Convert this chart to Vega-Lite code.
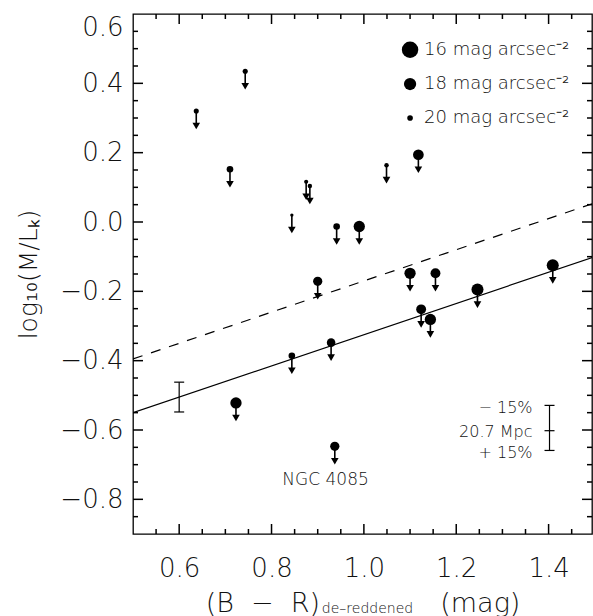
{
  "$schema": "https://vega.github.io/schema/vega-lite/v6.json",
  "width": 459,
  "height": 520,
  "autosize": "none",
  "padding": {"left": 133, "top": 14, "right": 1, "bottom": 82},
  "config": {
    "view": {"stroke": "black", "strokeWidth": 1.3},
    "axis": {"domain": false, "grid": false, "ticks": false, "tickSize": 0,
      "labelFont": "DejaVu Sans", "labelFontWeight": 200, "labelFontSize": 26, "labelColor": "#111",
      "titleFont": "DejaVu Sans", "titleFontWeight": 200, "titleFontSize": 27, "titleColor": "#111"},
    "text": {"font": "DejaVu Sans", "fontWeight": 200, "color": "#111"}
  },
  "datasets": {
    "pts": [
      {"x":0.637,"y":0.32,"mu":20.1},
      {"x":0.743,"y":0.435,"mu":20.1},
      {"x":0.71,"y":0.152,"mu":19.8},
      {"x":0.844,"y":0.02,"mu":20.35},
      {"x":0.875,"y":0.116,"mu":20.25},
      {"x":0.883,"y":0.104,"mu":20.2},
      {"x":0.941,"y":-0.013,"mu":19.8},
      {"x":0.99,"y":-0.013,"mu":18.4},
      {"x":1.049,"y":0.164,"mu":20.2},
      {"x":1.118,"y":0.194,"mu":18.6},
      {"x":0.9,"y":-0.171,"mu":19.1},
      {"x":1.10,"y":-0.148,"mu":18.4},
      {"x":1.155,"y":-0.148,"mu":18.9},
      {"x":1.246,"y":-0.195,"mu":18.1},
      {"x":1.409,"y":-0.125,"mu":18.1},
      {"x":1.124,"y":-0.252,"mu":18.9},
      {"x":1.144,"y":-0.281,"mu":18.4},
      {"x":0.929,"y":-0.348,"mu":19.3},
      {"x":0.844,"y":-0.386,"mu":19.8},
      {"x":0.937,"y":-0.647,"mu":19.1},
      {"x":0.723,"y":-0.522,"mu":18.4}
    ],
    "fit": [{"x":0.5,"y":-0.55},{"x":1.5,"y":-0.1}],
    "dash": [{"x":0.5,"y":-0.395},{"x":1.5,"y":0.055}],
    "eb": [{"x":0.6,"lo":-0.548,"hi":-0.462},{"x":1.402,"lo":-0.659,"hi":-0.529}],
    "ebmid": [{"x":1.402,"y":-0.602}],
    "ebtext": [{"y":-0.537,"t":"− 15%"},{"y":-0.607,"t":"20.7 Mpc\u00a0"},{"y":-0.666,"t":"+ 15%"}],
    "leg": [{"mu":16,"y":0.497,"t":"16 mag arcsec⁻²"},{"mu":18,"y":0.398,"t":"18 mag arcsec⁻²"},{"mu":20,"y":0.30,"t":"20 mag arcsec⁻²"}],
    "ann": [{"x":0.917,"y":-0.745,"t":"NGC 4085"}],
    "xmaj": [{"v":0.6},{"v":0.8},{"v":1.0},{"v":1.2},{"v":1.4}],
    "xmin": [{"v":0.55},{"v":0.65},{"v":0.7},{"v":0.75},{"v":0.85},{"v":0.9},{"v":0.95},{"v":1.05},{"v":1.1},{"v":1.15},{"v":1.25},{"v":1.3},{"v":1.35},{"v":1.45}],
    "ymaj": [{"v":-0.8},{"v":-0.6},{"v":-0.4},{"v":-0.2},{"v":0.0},{"v":0.2},{"v":0.4}],
    "ymin": [{"v":-0.85},{"v":-0.75},{"v":-0.7},{"v":-0.65},{"v":-0.55},{"v":-0.5},{"v":-0.45},{"v":-0.35},{"v":-0.3},{"v":-0.25},{"v":-0.15},{"v":-0.1},{"v":-0.05},{"v":0.05},{"v":0.1},{"v":0.15},{"v":0.25},{"v":0.3},{"v":0.35},{"v":0.45},{"v":0.5},{"v":0.55}]
  },
  "layer": [
    {
      "data": {"name": "fit"},
      "mark": {"type": "line", "color": "black", "strokeWidth": 1.2, "clip": true},
      "encoding": {
        "x": {"field": "x", "type": "quantitative", "scale": {"domain": [0.5, 1.494], "nice": false, "zero": false},
          "axis": {"orient": "bottom", "values": [0.6,0.8,1.0,1.2,1.4], "labelPadding": 21, "format": ".1f",
            "title": "(B\u00a0\u00a0−\u00a0\u00a0R)\u00a0\u00a0\u00a0\u00a0\u00a0\u00a0\u00a0\u00a0\u00a0\u00a0\u00a0\u00a0\u00a0\u00a0(mag)", "titleBaseline": "alphabetic", "titleY": 77}},
        "y": {"field": "y", "type": "quantitative", "scale": {"domain": [-0.9, 0.6], "nice": false, "zero": false},
          "axis": {"orient": "left", "values": [-0.8,-0.6,-0.4,-0.2,0,0.2,0.4,0.6], "labelPadding": 10, "format": ".1f",
            "labelFlush": true, "title": "log₁₀(M/Lₖ)", "titleAngle": -90, "titleX": -97, "titleY": 260, "titleBaseline": "alphabetic", "titleAlign": "center", "titleFontSize": 25}}
      }
    },
    {
      "data": {"name": "dash"},
      "mark": {"type": "line", "color": "black", "strokeWidth": 1.2, "strokeDash": [10, 9], "clip": true},
      "encoding": {
        "x": {"field": "x", "type": "quantitative"},
        "y": {"field": "y", "type": "quantitative"}
      }
    },
    {
      "data": {"name": "xmaj"},
      "mark": {"type": "tick", "orient": "vertical", "color": "black", "opacity": 1, "thickness": 1.5, "size": 10, "yOffset": -5},
      "encoding": {"x": {"field": "v", "type": "quantitative"}, "y": {"datum": -0.9, "type": "quantitative"}}
    },
    {
      "data": {"name": "xmaj"},
      "mark": {"type": "tick", "orient": "vertical", "color": "black", "opacity": 1, "thickness": 1.5, "size": 10, "yOffset": 5},
      "encoding": {"x": {"field": "v", "type": "quantitative"}, "y": {"datum": 0.6, "type": "quantitative"}}
    },
    {
      "data": {"name": "xmin"},
      "mark": {"type": "tick", "orient": "vertical", "color": "black", "opacity": 1, "thickness": 1.5, "size": 5, "yOffset": -2.5},
      "encoding": {"x": {"field": "v", "type": "quantitative"}, "y": {"datum": -0.9, "type": "quantitative"}}
    },
    {
      "data": {"name": "xmin"},
      "mark": {"type": "tick", "orient": "vertical", "color": "black", "opacity": 1, "thickness": 1.5, "size": 5, "yOffset": 2.5},
      "encoding": {"x": {"field": "v", "type": "quantitative"}, "y": {"datum": 0.6, "type": "quantitative"}}
    },
    {
      "data": {"name": "ymaj"},
      "mark": {"type": "tick", "orient": "horizontal", "color": "black", "opacity": 1, "thickness": 1.5, "size": 10, "xOffset": 5},
      "encoding": {"y": {"field": "v", "type": "quantitative"}, "x": {"datum": 0.5, "type": "quantitative"}}
    },
    {
      "data": {"name": "ymaj"},
      "mark": {"type": "tick", "orient": "horizontal", "color": "black", "opacity": 1, "thickness": 1.5, "size": 10, "xOffset": -5},
      "encoding": {"y": {"field": "v", "type": "quantitative"}, "x": {"datum": 1.494, "type": "quantitative"}}
    },
    {
      "data": {"name": "ymin"},
      "mark": {"type": "tick", "orient": "horizontal", "color": "black", "opacity": 1, "thickness": 1.5, "size": 5, "xOffset": 2.5},
      "encoding": {"y": {"field": "v", "type": "quantitative"}, "x": {"datum": 0.5, "type": "quantitative"}}
    },
    {
      "data": {"name": "ymin"},
      "mark": {"type": "tick", "orient": "horizontal", "color": "black", "opacity": 1, "thickness": 1.5, "size": 5, "xOffset": -2.5},
      "encoding": {"y": {"field": "v", "type": "quantitative"}, "x": {"datum": 1.494, "type": "quantitative"}}
    },
    {
      "data": {"name": "pts"},
      "mark": {"type": "rule", "color": "black", "strokeWidth": 1.6, "y2Offset": 16},
      "encoding": {
        "x": {"field": "x", "type": "quantitative"},
        "y": {"field": "y", "type": "quantitative"},
        "y2": {"field": "y"}
      }
    },
    {
      "data": {"name": "pts"},
      "mark": {"type": "point", "shape": "triangle-down", "filled": true, "color": "black", "opacity": 1, "size": 58, "yOffset": 15},
      "encoding": {
        "x": {"field": "x", "type": "quantitative"},
        "y": {"field": "y", "type": "quantitative"}
      }
    },
    {
      "data": {"name": "pts"},
      "mark": {"type": "circle", "color": "black", "opacity": 1},
      "encoding": {
        "x": {"field": "x", "type": "quantitative"},
        "y": {"field": "y", "type": "quantitative"},
        "size": {"field": "mu", "type": "quantitative", "scale": {"domain": [16, 20], "range": [270, 32], "zero": false}, "legend": null}
      }
    },
    {
      "data": {"name": "leg"},
      "mark": {"type": "circle", "color": "black", "opacity": 1},
      "encoding": {
        "x": {"datum": 1.1, "type": "quantitative"},
        "y": {"field": "y", "type": "quantitative"},
        "size": {"field": "mu", "type": "quantitative", "scale": {"domain": [16, 20], "range": [270, 32], "zero": false}, "legend": null}
      }
    },
    {
      "data": {"name": "leg"},
      "mark": {"type": "text", "align": "left", "baseline": "middle", "dx": 14, "fontSize": 18},
      "encoding": {
        "x": {"datum": 1.1, "type": "quantitative"},
        "y": {"field": "y", "type": "quantitative"},
        "text": {"field": "t"}
      }
    },
    {
      "data": {"name": "eb"},
      "mark": {"type": "rule", "color": "black", "strokeWidth": 1.2},
      "encoding": {
        "x": {"field": "x", "type": "quantitative"},
        "y": {"field": "lo", "type": "quantitative"},
        "y2": {"field": "hi"}
      }
    },
    {
      "data": {"name": "eb"},
      "mark": {"type": "rule", "color": "black", "strokeWidth": 1.2, "xOffset": -5, "x2Offset": 5},
      "encoding": {
        "x": {"field": "x", "type": "quantitative"},
        "x2": {"field": "x"},
        "y": {"field": "lo", "type": "quantitative"}
      }
    },
    {
      "data": {"name": "eb"},
      "mark": {"type": "rule", "color": "black", "strokeWidth": 1.2, "xOffset": -5, "x2Offset": 5},
      "encoding": {
        "x": {"field": "x", "type": "quantitative"},
        "x2": {"field": "x"},
        "y": {"field": "hi", "type": "quantitative"}
      }
    },
    {
      "data": {"name": "ebmid"},
      "mark": {"type": "rule", "color": "black", "strokeWidth": 1.2, "xOffset": -5, "x2Offset": 5},
      "encoding": {
        "x": {"field": "x", "type": "quantitative"},
        "x2": {"field": "x"},
        "y": {"field": "y", "type": "quantitative"}
      }
    },
    {
      "data": {"name": "ebtext"},
      "mark": {"type": "text", "align": "right", "baseline": "middle", "dx": -17, "fontSize": 16},
      "encoding": {
        "x": {"datum": 1.402, "type": "quantitative"},
        "y": {"field": "y", "type": "quantitative"},
        "text": {"field": "t"}
      }
    },
    {
      "data": {"name": "ann"},
      "mark": {"type": "text", "align": "center", "baseline": "middle", "fontSize": 17},
      "encoding": {
        "x": {"field": "x", "type": "quantitative"},
        "y": {"field": "y", "type": "quantitative"},
        "text": {"field": "t"}
      }
    },
    {
      "data": {"values": [{"t": "de–reddened"}]},
      "mark": {"type": "text", "align": "left", "baseline": "alphabetic", "dy": 79, "fontSize": 14},
      "encoding": {
        "x": {"datum": 0.909, "type": "quantitative"},
        "y": {"datum": -0.9, "type": "quantitative"},
        "text": {"field": "t"}
      }
    }
  ]
}
